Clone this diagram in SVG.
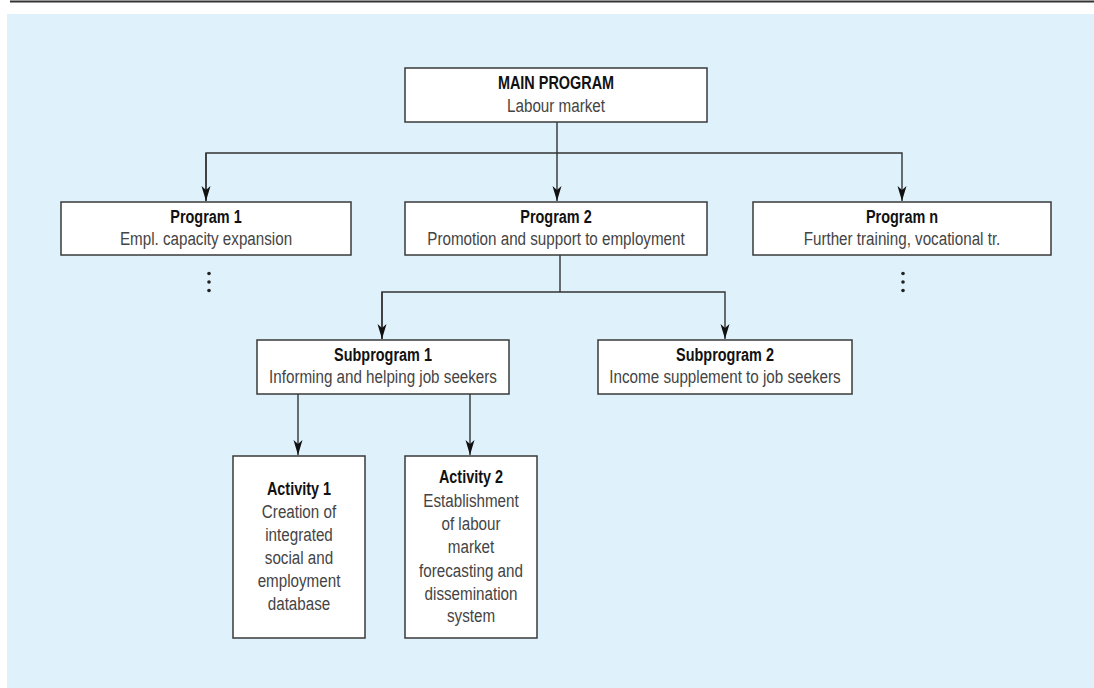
<svg xmlns="http://www.w3.org/2000/svg" width="1094" height="688" viewBox="0 0 1094 688">
<style>
.box{fill:#ffffff;stroke:#3a3a3a;stroke-width:1.5}
.t{font-family:"Liberation Sans",Arial,sans-serif;font-size:19px;text-anchor:middle}
.h{fill:#111;font-weight:bold}
.b{fill:#444}
.c{fill:none;stroke:#333;stroke-width:1.4}
.dot{fill:#222}
</style>
<defs>
<marker id="arr" markerUnits="userSpaceOnUse" markerWidth="16" markerHeight="10" refX="15" refY="5" orient="auto">
<path d="M0,0.5 L15,5 L0,9.5 L4,5 Z" fill="#111"/>
</marker>
</defs>
<rect x="7" y="14" width="1087" height="674" fill="#dff1fb"/>
<line x1="10" y1="1.5" x2="1094" y2="1.5" stroke="#333" stroke-width="2"/>
<g id="connectors">
<path class="c" d="M557,122 V201" marker-end="url(#arr)"/>
<path class="c" d="M206,201 V153 H902 V201" marker-end="url(#arr)"/>
<path class="c" d="M206,153 V201" marker-end="url(#arr)"/>
<path class="c" d="M560,255 V292"/>
<path class="c" d="M382,339 V292 H725 V339" marker-end="url(#arr)"/>
<path class="c" d="M382,292 V339" marker-end="url(#arr)"/>
<path class="c" d="M298,394 V455" marker-end="url(#arr)"/>
<path class="c" d="M470,394 V455" marker-end="url(#arr)"/>
</g>
<g id="main">
<rect class="box" x="405" y="68" width="302" height="54"/>
<text class="t h" transform="translate(556,89) scale(0.76,1)">MAIN PROGRAM</text>
<text class="t b" transform="translate(556,112) scale(0.8,1)">Labour market</text>
</g>
<g id="program1">
<rect class="box" x="61" y="202" width="290" height="53"/>
<text class="t h" transform="translate(206,223) scale(0.76,1)">Program 1</text>
<text class="t b" transform="translate(206,245) scale(0.8,1)">Empl. capacity expansion</text>
</g>
<g id="program2">
<rect class="box" x="405" y="202" width="302" height="53"/>
<text class="t h" transform="translate(556,223) scale(0.76,1)">Program 2</text>
<text class="t b" transform="translate(556,245) scale(0.8,1)">Promotion and support to employment</text>
</g>
<g id="programn">
<rect class="box" x="753" y="202" width="298" height="53"/>
<text class="t h" transform="translate(902,223) scale(0.76,1)">Program n</text>
<text class="t b" transform="translate(902,245) scale(0.8,1)">Further training, vocational tr.</text>
</g>
<g id="dots1">
<circle class="dot" cx="209" cy="273.5" r="1.8"/>
<circle class="dot" cx="209" cy="282" r="1.8"/>
<circle class="dot" cx="209" cy="290.5" r="1.8"/>
</g>
<g id="dotsn">
<circle class="dot" cx="903" cy="273.5" r="1.8"/>
<circle class="dot" cx="903" cy="282" r="1.8"/>
<circle class="dot" cx="903" cy="290.5" r="1.8"/>
</g>
<g id="subprogram1">
<rect class="box" x="257" y="340" width="252" height="54"/>
<text class="t h" transform="translate(383,361) scale(0.76,1)">Subprogram 1</text>
<text class="t b" transform="translate(383,383) scale(0.8,1)">Informing and helping job seekers</text>
</g>
<g id="subprogram2">
<rect class="box" x="598" y="340" width="254" height="54"/>
<text class="t h" transform="translate(725,361) scale(0.76,1)">Subprogram 2</text>
<text class="t b" transform="translate(725,383) scale(0.8,1)">Income supplement to job seekers</text>
</g>
<g id="activity1">
<rect class="box" x="233" y="456" width="132" height="182"/>
<text class="t h" transform="translate(299,495) scale(0.76,1)">Activity 1</text>
<text class="t b" transform="translate(299,518) scale(0.8,1)">Creation of</text>
<text class="t b" transform="translate(299,541) scale(0.8,1)">integrated</text>
<text class="t b" transform="translate(299,564) scale(0.8,1)">social and</text>
<text class="t b" transform="translate(299,587) scale(0.8,1)">employment</text>
<text class="t b" transform="translate(299,610) scale(0.8,1)">database</text>
</g>
<g id="activity2">
<rect class="box" x="405" y="456" width="132" height="182"/>
<text class="t h" transform="translate(471,483) scale(0.76,1)">Activity 2</text>
<text class="t b" transform="translate(471,507) scale(0.8,1)">Establishment</text>
<text class="t b" transform="translate(471,530) scale(0.8,1)">of labour</text>
<text class="t b" transform="translate(471,553) scale(0.8,1)">market</text>
<text class="t b" transform="translate(471,577) scale(0.8,1)">forecasting and</text>
<text class="t b" transform="translate(471,600) scale(0.8,1)">dissemination</text>
<text class="t b" transform="translate(471,622) scale(0.8,1)">system</text>
</g>
</svg>
